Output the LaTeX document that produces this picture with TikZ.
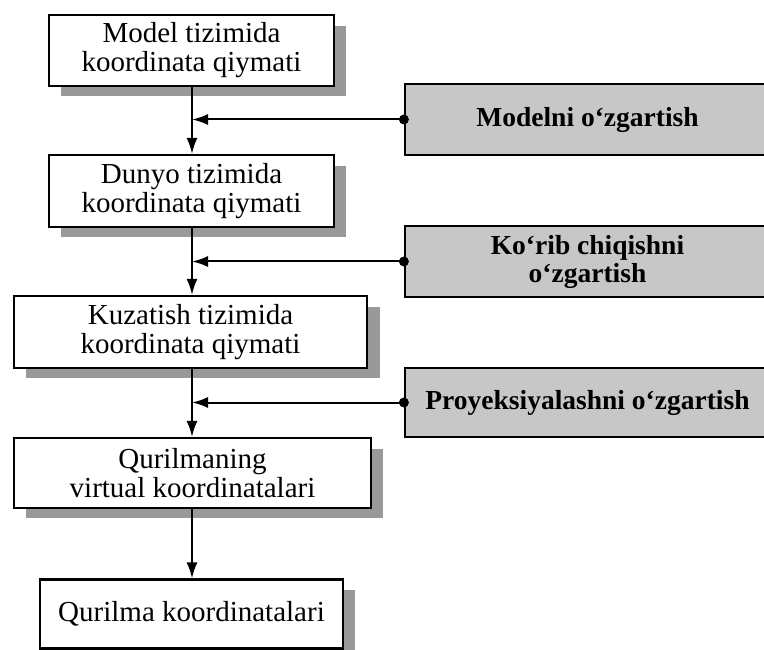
\documentclass[tikz,border=0pt]{standalone}
\usepackage{fontspec}
\setmainfont{Liberation Serif}
\usetikzlibrary{arrows.meta,calc}

\tikzset{
  x=1pt, y=-1pt,
  stage/.style={draw=black, line width=2.2pt, fill=white, align=center,
    font=\fontsize{29}{29}\selectfont, inner sep=0pt},
  shade/.style={fill=black!40, draw=none},
  xform/.style={draw=black, line width=2.2pt, fill=black!22, align=center,
    font=\fontsize{27.5}{28}\selectfont\bfseries, inner sep=0pt,
    minimum width=365pt},
  flow/.style={line width=2pt, -{Latex[length=16pt,width=11pt]}},
  tap/.style={circle, fill=black, inner sep=0pt, minimum size=10pt}
}

\begin{document}
\begin{tikzpicture}
\useasboundingbox (0,0) rectangle (764,650);

% spine of the pipeline
\coordinate (sp) at (192,0);

% drop shadows first
\fill[shade] (61,26) rectangle (346,96);
\fill[shade] (61,166) rectangle (346,237);
\fill[shade] (26,307) rectangle (380,378);
\fill[shade] (26,449) rectangle (383,518);
\fill[shade] (52,590) rectangle (355,660);

\node[stage, minimum width=285pt, minimum height=71pt] (b1) at (191.5,50.5)
  {Model tizimida\\koordinata qiymati};
\node[stage, minimum width=285pt, minimum height=72pt] (b2) at (191.5,191)
  {Dunyo tizimida\\koordinata qiymati};
\node[stage, minimum width=353pt, minimum height=72pt] (b3) at (190.5,332)
  {Kuzatish tizimida\\koordinata qiymati};
\node[stage, minimum width=357pt, minimum height=70pt] (b4) at (192.5,473)
  {Qurilmaning\\virtual koordinatalari};
\node[stage, minimum width=303pt, minimum height=69pt] (b5) at (191.5,614)
  {Qurilma koordinatalari};

% transformation boxes on the right
\node[xform, minimum height=71pt] (t1) at (587.5,119.5) {Modelni o`zgartish};
\node[xform, minimum height=71pt] (t2) at (587.5,261.5) {Ko`rib chiqishni\\o`zgartish};
\node[xform, minimum height=69pt] (t3) at (587.5,402.5) {Proyeksiyalashni o`zgartish};

% vertical pipeline
\draw[flow] (b1.south -| sp) -- (b2.north -| sp);
\draw[flow] (b2.south -| sp) -- (b3.north -| sp);
\draw[flow] (b3.south -| sp) -- (b4.north -| sp);
\draw[flow] (b4.south -| sp) -- (b5.north -| sp);

% transformation inputs
\foreach \t in {t1,t2,t3}{
  \draw[flow] (\t.west) -- (\t.west -| sp);
  \node[tap] at (\t.west) {};
}
\end{tikzpicture}
\end{document}
